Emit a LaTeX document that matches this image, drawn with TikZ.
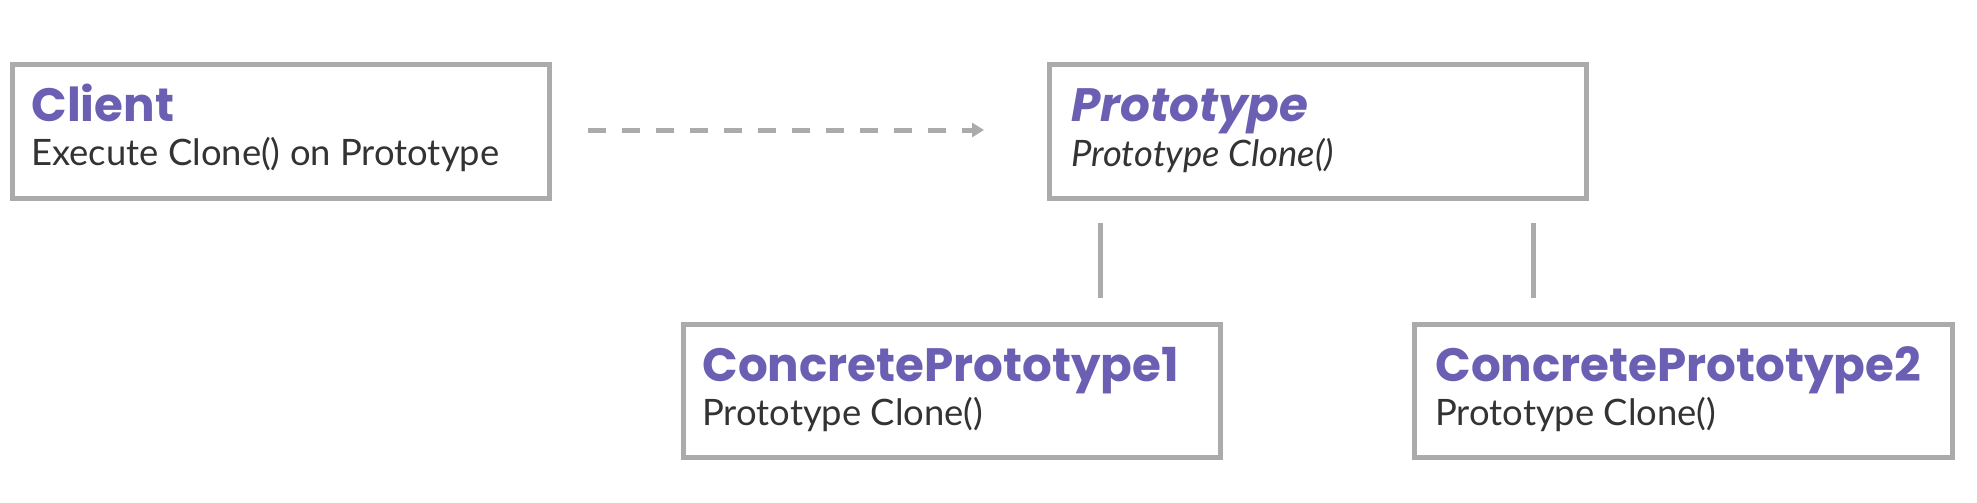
\documentclass[tikz,border=0pt]{standalone}
\usepackage{fontspec}
\setmainfont{Lato}
\newfontfamily\titlefont{Poppins}
\usetikzlibrary{arrows.meta}
\definecolor{boxgray}{HTML}{ABABAB}
\definecolor{titlepurple}{HTML}{6A5FB3}
\definecolor{bodytext}{HTML}{333333}
\begin{document}
\begin{tikzpicture}[x=0.5pt,y=-0.5pt,
  box/.style={draw=boxgray, line width=2.5pt, fill=white, anchor=north west, inner sep=0pt},
  titletext/.style={anchor=base west, inner sep=0pt, text=titlepurple, font=\titlefont\bfseries\fontsize{23.4}{28}\selectfont},
  bodytxt/.style={anchor=base west, inner sep=0pt, text=bodytext, font=\fontsize{18.2}{22}\selectfont},
  link/.style={draw=boxgray, line width=2.5pt}]
\useasboundingbox (0,0) rectangle (1977,503);
% boxes
\node[box, minimum width=268.5pt, minimum height=67pt] (client) at (10,62) {};
\node[box, minimum width=268.5pt, minimum height=67pt] (proto) at (1047,62) {};
\node[box, minimum width=268.5pt, minimum height=66.5pt] (cp1) at (681,322) {};
\node[box, minimum width=269pt, minimum height=66.5pt] (cp2) at (1412,322) {};
% texts
\node[titletext] (clientT) at (31,121) {Client};
\node[bodytxt] (clientB) at (31,165) {Execute Clone() on Prototype};
\node[titletext] (protoT) at (1071,121) {\itshape Prototype};
\node[bodytxt] (protoB) at (1071,166) {\itshape Prototype Clone()};
\node[titletext] (cp1T) at (702,381) {ConcretePrototype1};
\node[bodytxt] (cp1B) at (702,425) {Prototype Clone()};
\node[titletext] (cp2T) at (1435,381) {ConcretePrototype2};
\node[bodytxt] (cp2B) at (1435,425) {Prototype Clone()};
% connectors
\coordinate (a1) at (588,130);
\coordinate (a2) at (984,130);
\draw[link, dash pattern=on 9pt off 8pt, -{Triangle[length=6pt,width=7pt]}] (a1) -- (a2);
\coordinate (v1a) at (1100,223);
\coordinate (v1b) at (1100,298);
\coordinate (v2a) at (1533,223);
\coordinate (v2b) at (1533,298);
\draw[link] (v1a) -- (v1b);
\draw[link] (v2a) -- (v2b);
\end{tikzpicture}
\end{document}
